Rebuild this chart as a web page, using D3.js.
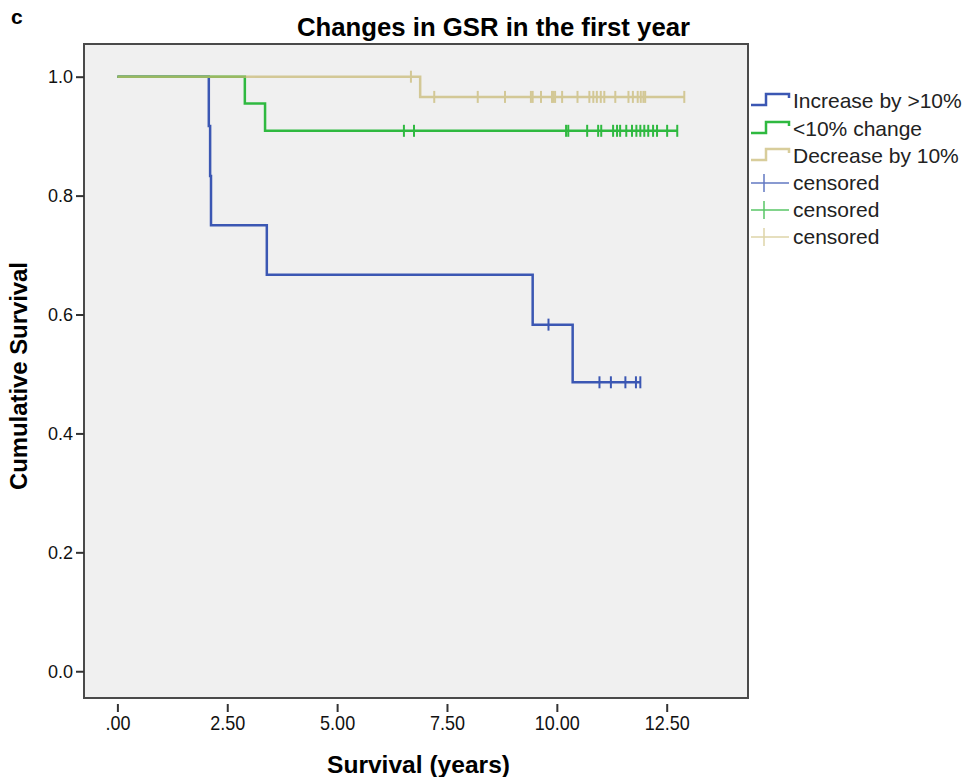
<!DOCTYPE html>
<html>
<head>
<meta charset="utf-8">
<script src="https://cdn.jsdelivr.net/npm/d3@7/dist/d3.min.js"></script>
<style>
  body { margin: 0; background: #fff; }
  svg { display: block; }
</style>
</head>
<body>
<svg id="chart"></svg>
<script>
// Kaplan-Meier curves (time in years, survival after each event)
var groups = ["Increase by >10%", "<10% change", "Decrease by 10%"];
var colors = ["#3b57b3", "#2fb940", "#c8b870"];

var incTimes = [2.08, 2.11, 2.13, 3.40, 9.45, 10.36];
var incSurv = [0.917, 0.833, 0.750, 0.667, 0.583, 0.486];
var incCensor = [9.81, 10.97, 11.23, 11.56, 11.80, 11.90];

var lowTimes = [2.90, 3.36];
var lowSurv = [0.955, 0.909];
var lowCensor = [6.52, 6.75, 10.21, 10.26, 10.69, 10.94, 11.01, 11.28, 11.37, 11.44,
  11.58, 11.71, 11.81, 11.90, 11.99, 12.08, 12.19, 12.28, 12.51, 12.74];

var decTimes = [6.89];
var decSurv = [0.966];
var decCensor = [6.68, 7.21, 8.20, 8.82, 9.41, 9.45, 9.64, 9.89, 9.92, 9.96, 10.12,
  10.47, 10.74, 10.83, 10.91, 11.00, 11.08, 11.33, 11.63, 11.73, 11.84, 11.91,
  11.97, 12.01, 12.90];

var xTicks = [0, 2.5, 5, 7.5, 10, 12.5];
var yTicks = [0, 0.2, 0.4, 0.6, 0.8, 1.0];

var width = 966, height = 777;
var frame = {left: 84, top: 44, right: 748, bottom: 698};

var svg = d3.select("#chart")
  .attr("width", width)
  .attr("height", height);

var x = d3.scaleLinear().domain([-0.76, 14.35]).range([frame.left, frame.right]);
var y = d3.scaleLinear().domain([-0.045, 1.055]).range([frame.bottom, frame.top]);

var sans = "'Liberation Sans', Arial, sans-serif";

svg.append("text")
  .attr("x", 11).attr("y", 24)
  .attr("font-family", sans).attr("font-weight", "bold").attr("font-size", 21)
  .text("c");

// the original uses a condensed bold face; squeeze Liberation Sans to the same width
svg.append("text")
  .attr("x", 297).attr("y", 36)
  .attr("textLength", 393).attr("lengthAdjust", "spacingAndGlyphs")
  .attr("font-family", sans).attr("font-weight", "bold").attr("font-size", 26)
  .text("Changes in GSR in the first year");

svg.append("rect")
  .attr("x", frame.left).attr("y", frame.top)
  .attr("width", frame.right - frame.left)
  .attr("height", frame.bottom - frame.top)
  .attr("fill", "#f0f0f0")
  .attr("stroke", "#4a4a4a")
  .attr("stroke-width", 2);

// y axis, ticks outside the frame
var yAxis = svg.append("g")
  .attr("transform", "translate(" + frame.left + ",0)")
  .call(d3.axisLeft(y).tickValues(yTicks).tickSize(8).tickPadding(3)
    .tickFormat(d3.format(".1f")));
yAxis.select(".domain").remove();
yAxis.selectAll("line").attr("stroke", "#333").attr("stroke-width", 2);
yAxis.selectAll("text")
  .attr("font-family", sans).attr("font-size", 18).attr("fill", "#111");

// x axis sits a little below the frame
var xAxis = svg.append("g")
  .attr("transform", "translate(0," + (frame.bottom + 6) + ")")
  .call(d3.axisBottom(x).tickValues(xTicks).tickSize(8).tickPadding(4)
    .tickFormat(function (d) { return d === 0 ? ".00" : d3.format(".2f")(d); }));
xAxis.select(".domain").remove();
xAxis.selectAll("line").attr("stroke", "#333").attr("stroke-width", 2);
// compressed labels stay centred since their x is 0 inside each tick
xAxis.selectAll(".tick text")
  .attr("font-family", sans).attr("font-size", 20).attr("fill", "#111")
  .attr("transform", "scale(0.9,1)");

svg.append("text")
  .attr("x", 327).attr("y", 773)
  .attr("textLength", 183).attr("lengthAdjust", "spacingAndGlyphs")
  .attr("font-family", sans).attr("font-weight", "bold").attr("font-size", 24)
  .text("Survival (years)");

svg.append("text")
  .attr("transform", "translate(27,490) rotate(-90)")
  .attr("textLength", 228).attr("lengthAdjust", "spacingAndGlyphs")
  .attr("font-family", sans).attr("font-weight", "bold").attr("font-size", 24)
  .text("Cumulative Survival");

function stepPath(times, surv, end) {
  var p = "M" + x(0) + "," + y(1);
  for (var i = 0; i < times.length; ++i) {
    p += "H" + x(times[i]) + "V" + y(surv[i]);
  }
  return p + "H" + x(end);
}

function survAt(times, surv, t) {
  var s = 1;
  for (var i = 0; i < times.length; ++i)
    if (times[i] <= t) s = surv[i];
  return s;
}

var series = [
  {times: incTimes, surv: incSurv, censor: incCensor, color: colors[0], opacity: 1},
  {times: lowTimes, surv: lowSurv, censor: lowCensor, color: colors[1], opacity: 1},
  {times: decTimes, surv: decSurv, censor: decCensor, color: colors[2], opacity: 0.7}
];

var curves = svg.append("g");
series.forEach(function (s) {
  var end = d3.max(s.censor.concat(s.times));
  var g = curves.append("g").attr("opacity", s.opacity);
  g.append("path")
    .attr("d", stepPath(s.times, s.surv, end))
    .attr("fill", "none")
    .attr("stroke", s.color)
    .attr("stroke-width", 2.5);
  g.selectAll("line")
    .data(s.censor)
    .enter().append("line")
    .attr("x1", function (d) { return x(d); })
    .attr("x2", function (d) { return x(d); })
    .attr("y1", function (d) { return y(survAt(s.times, s.surv, d)) - 6; })
    .attr("y2", function (d) { return y(survAt(s.times, s.surv, d)) + 6; })
    .attr("stroke", s.color)
    .attr("stroke-width", 2);
});

// legend
var legendRows = [101, 129, 156, 183, 210, 237];
var legend = svg.append("g");
groups.forEach(function (name, i) {
  var ry = legendRows[i];
  legend.append("path")
    .attr("d", "M751," + (ry + 4) + "H766V" + (ry - 7) + "H789V" + (ry - 3))
    .attr("fill", "none")
    .attr("stroke", colors[i])
    .attr("stroke-width", 2.5)
    .attr("opacity", i === 2 ? 0.7 : 1);
  legend.append("text")
    .attr("x", 793).attr("y", ry + 7)
    .attr("font-family", sans).attr("font-size", 21).attr("fill", "#222")
    .text(name);
});
groups.forEach(function (name, i) {
  var ry = legendRows[i + 3];
  var g = legend.append("g").attr("opacity", i === 2 ? 0.6 : 0.8);
  g.append("line")
    .attr("x1", 751).attr("x2", 789).attr("y1", ry).attr("y2", ry)
    .attr("stroke", colors[i]).attr("stroke-width", 1.5);
  g.append("line")
    .attr("x1", 764).attr("x2", 764).attr("y1", ry - 9).attr("y2", ry + 9)
    .attr("stroke", colors[i]).attr("stroke-width", 1.5);
  legend.append("text")
    .attr("x", 793).attr("y", ry + 7)
    .attr("font-family", sans).attr("font-size", 21).attr("fill", "#222")
    .text("censored");
});
</script>
</body>
</html>
